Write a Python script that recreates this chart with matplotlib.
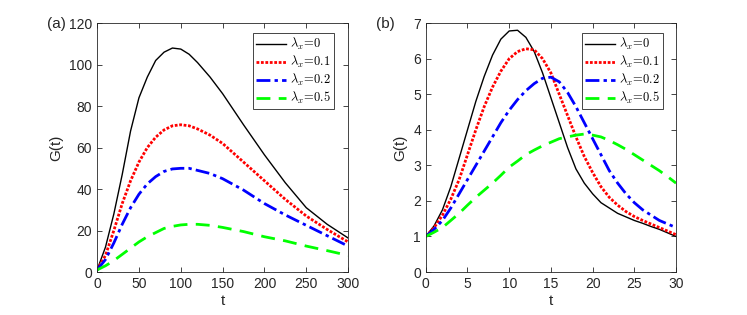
import matplotlib.pyplot as plt
import numpy as np

plt.rcParams['font.family'] = ['Liberation Sans', 'DejaVu Sans']
plt.rcParams['mathtext.fontset'] = 'cm'

# panel (a)
ta = [0, 10, 20, 30, 40, 50, 60, 70, 80, 90, 100, 110, 120, 135, 150, 175, 200, 225, 250, 275, 300]
ga0 = [1, 12, 28, 47, 68, 84, 94, 102, 106, 108, 107.5, 105, 101, 94, 86, 71, 56.5, 43, 31, 23, 16.4]
ga1 = [1, 8, 20, 33, 44, 53, 60, 65, 68.5, 70.5, 71, 70.5, 69, 66, 62, 53, 44, 35, 27, 20.5, 14.5]
ga2 = [1, 6, 14, 23, 31, 37.5, 42.5, 46, 48.5, 49.7, 50, 50, 49, 47.5, 45, 39.5, 33, 27.5, 22.5, 17.5, 12.5]
ga5 = [1, 3, 5.5, 8.5, 11.5, 14.5, 17, 19, 21, 22, 22.7, 23, 23, 22.5, 21.5, 19.5, 17, 15, 12.5, 10.3, 8]

# panel (b)
tb = list(range(0, 31))
gb0 = [1, 1.3, 1.75, 2.4, 3.2, 4.0, 4.8, 5.5, 6.1, 6.55, 6.78, 6.8, 6.6, 6.2, 5.6, 4.9,
       4.2, 3.5, 2.9, 2.5, 2.2, 1.95, 1.8, 1.65, 1.55, 1.45, 1.37, 1.28, 1.2, 1.1, 1.0]
gb1 = [1, 1.25, 1.6, 2.05, 2.6, 3.3, 4.0, 4.65, 5.2, 5.65, 6.0, 6.2, 6.28, 6.25, 6.0, 5.6,
       5.0, 4.4, 3.8, 3.25, 2.8, 2.4, 2.1, 1.88, 1.7, 1.56, 1.45, 1.35, 1.25, 1.15, 1.05]
gb2 = [1, 1.2, 1.45, 1.8, 2.2, 2.6, 3.0, 3.4, 3.8, 4.2, 4.55, 4.85, 5.1, 5.3, 5.45, 5.48,
       5.35, 5.05, 4.65, 4.2, 3.75, 3.3, 2.85, 2.5, 2.2, 1.95, 1.75, 1.6, 1.45, 1.35, 1.25]
gb5 = [1, 1.12, 1.25, 1.45, 1.65, 1.88, 2.1, 2.3, 2.5, 2.72, 2.95, 3.12, 3.3, 3.43, 3.55, 3.65,
       3.75, 3.8, 3.85, 3.88, 3.85, 3.8, 3.7, 3.58, 3.45, 3.3, 3.15, 3.0, 2.85, 2.68, 2.5]

labels = [r'$\lambda_x\!=\!0$', r'$\lambda_x\!=\!0.1$', r'$\lambda_x\!=\!0.2$', r'$\lambda_x\!=\!0.5$']
styles = [('k', '-', 1.0), ('r', (0, (1, 0.6)), 2.0), ('b', (0, (5, 1.5, 1.2, 1.5)), 2.0),
          ('#00ff00', (0, (5, 3)), 2.0)]

fig = plt.figure(figsize=(7.47, 3.15), dpi=100)
axa = fig.add_axes([0.130, 0.1365, 0.336, 0.79])
axb = fig.add_axes([0.570, 0.1365, 0.335, 0.79])

def draw(ax, t, series, xlim, ylim, xticks, yticks, tag, anchor):
    for g, (c, ls, lw), lab in zip(series, styles, labels):
        ax.plot(t, g, color=c, linestyle=ls, linewidth=lw, label=lab)
    ax.set_xlim(xlim)
    ax.set_ylim(ylim)
    ax.set_xticks(xticks)
    ax.set_yticks(yticks)
    ax.tick_params(direction='in', top=True, right=True, labelsize=10,
                   colors='0.15', length=3.5, width=0.6)
    for s in ax.spines.values():
        s.set_color('0.15')
        s.set_linewidth(0.6)
    ax.set_xlabel('t', fontsize=11, color='0.15', labelpad=2)
    ax.set_ylabel('G(t)', fontsize=11, color='0.15', labelpad=4)
    leg = ax.legend(loc='upper right', bbox_to_anchor=anchor, fontsize=9,
                    fancybox=False, framealpha=1, edgecolor='0.15',
                    handlelength=2.4, handletextpad=0.3, borderpad=0.25,
                    labelspacing=0.15, borderaxespad=0)
    leg.get_frame().set_linewidth(0.6)
    ax.text(-0.2, 0.995, tag, transform=ax.transAxes, fontsize=11, color='0.15',
            va='center', ha='left')

draw(axa, ta, [ga0, ga1, ga2, ga5], (0, 300), (0, 120),
     np.arange(0, 301, 50), np.arange(0, 121, 20), '(a)', (0.944, 0.96))
draw(axb, tb, [gb0, gb1, gb2, gb5], (0, 30), (0, 7),
     np.arange(0, 31, 5), np.arange(0, 8, 1), '(b)', (0.948, 0.96))

fig.savefig('out.png', dpi=100)
